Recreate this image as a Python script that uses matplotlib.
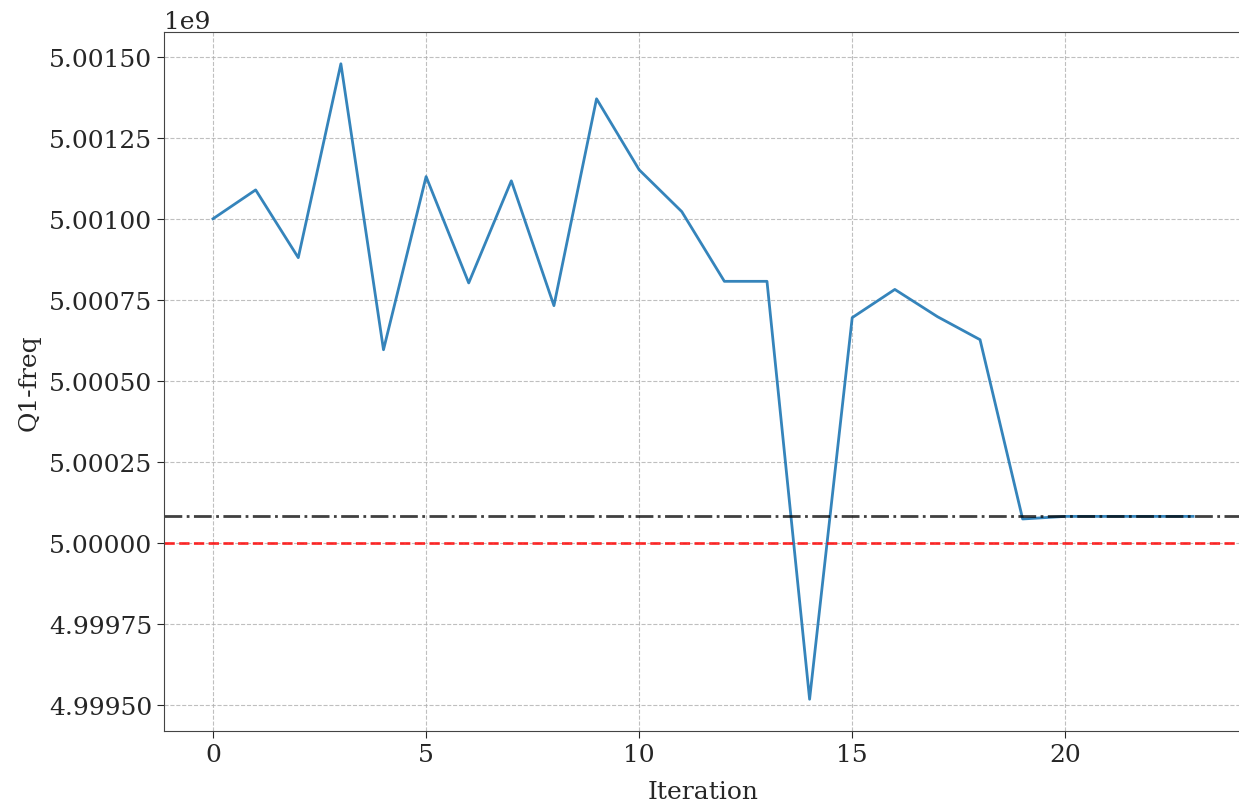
import numpy as np
import matplotlib.pyplot as plt

plt.rcParams['font.family'] = 'DejaVu Serif'

# Q1 frequency estimate per calibration iteration (Hz)
iteration = np.arange(24)
q1_freq = [5.001000e9, 5.001089e9, 5.000880e9, 5.001478e9, 5.000596e9,
           5.001130e9, 5.000802e9, 5.001117e9, 5.000732e9, 5.001370e9,
           5.001151e9, 5.001022e9, 5.000807e9, 5.000807e9, 4.999518e9,
           5.000695e9, 5.000782e9, 5.000698e9, 5.000627e9, 5.000074e9,
           5.000082e9, 5.000082e9, 5.000082e9, 5.000082e9]
true_freq = 5.000082e9
initial_guess = 5.0e9

fig = plt.figure(figsize=(12.39, 8.03), dpi=100)
ax = fig.add_axes([0.1324, 0.0884, 0.8701, 0.8705])

ax.plot(iteration, q1_freq, color='tab:blue', lw=2, alpha=0.9)
ax.axhline(true_freq, color='k', ls='-.', lw=2, alpha=0.75)
ax.axhline(initial_guess, color='red', ls='--', lw=2, alpha=0.8)

ax.grid(True, ls='--', color='#b0b0b0', alpha=0.8)
ax.set_xlabel('Iteration', fontsize=18, color='#262626', labelpad=10)
ax.set_ylabel('Q1-freq', fontsize=18, color='#262626', labelpad=6)
ax.tick_params(labelsize=18, colors='#262626', length=5)
ax.yaxis.get_offset_text().set_fontsize(18)
ax.yaxis.get_offset_text().set_color('#262626')
for s in ax.spines.values():
    s.set_color('#444444')

fig.savefig('out.png', dpi=100)
